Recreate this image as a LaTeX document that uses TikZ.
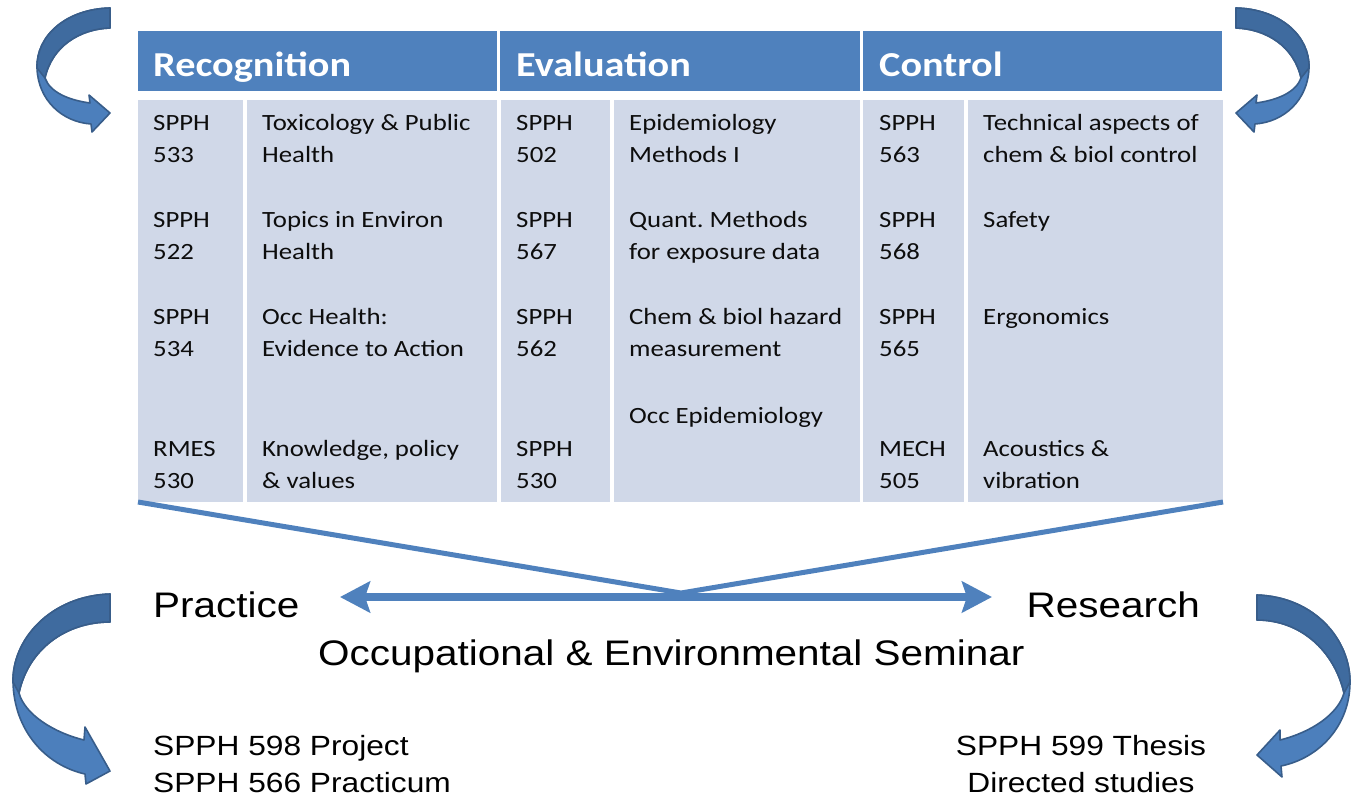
\documentclass[tikz,border=0pt]{standalone}
\usepackage{fontspec}
\usetikzlibrary{arrows.meta}
\newfontfamily\calfont[FakeStretch=1.15]{Carlito}
\newfontfamily\arifont[FakeStretch=1.14]{Liberation Sans}
\definecolor{hdrblue}{HTML}{4F81BD}
\definecolor{cellblue}{HTML}{D0D8E8}
\definecolor{arrdark}{HTML}{3F6B9F}
\definecolor{arrlight}{HTML}{4C7FBC}
\definecolor{arredge}{HTML}{385D8A}
\definecolor{txtcol}{HTML}{0D0D0D}
\frenchspacing
\begin{document}
\begin{tikzpicture}[x=1pt,y=-1pt,
  hdrcell/.style={fill=hdrblue, draw=none, inner sep=0pt, outer sep=0pt, anchor=north west, minimum height=60pt},
  bodycell/.style={fill=cellblue, draw=none, inner sep=0pt, outer sep=0pt, anchor=north west, minimum height=402pt},
  hdrtxt/.style={anchor=base west, inner sep=0pt, text=white, font=\calfont\bfseries\fontsize{35}{40}\selectfont},
  bodytxt/.style={anchor=base west, inner sep=0pt, align=left, text=txtcol, font=\calfont\fontsize{23.3}{32}\selectfont},
  bigtxt/.style={inner sep=0pt, text=black, font=\arifont\fontsize{35.5}{37}\selectfont},
  smalltxt/.style={inner sep=0pt, text=black, font=\arifont\fontsize{27.8}{37}\selectfont},
  funnel/.style={draw=hdrblue, line width=5pt},
  dblarrow/.style={draw=hdrblue, line width=8pt, {Stealth[length=30pt,width=31pt,inset=5pt]}-{Stealth[length=30pt,width=31pt,inset=5pt]}},
  arrfill/.style={fill=arrlight, draw=arredge, line width=1.6pt, line join=round},
  arrdarkfill/.style={fill=arrdark, draw=arredge, line width=1.6pt, line join=round}
]
\useasboundingbox (0,0) rectangle (1361,796);

% header cells
\node[hdrcell, minimum width=359pt] (h1) at (138,31) {};
\node[hdrcell, minimum width=360pt] (h2) at (500,31) {};
\node[hdrcell, minimum width=359pt] (h3) at (863,31) {};
% body cells
\node[bodycell, minimum width=105pt] (b1) at (138,100) {};
\node[bodycell, minimum width=250pt] (b2) at (247,100) {};
\node[bodycell, minimum width=109pt] (b3) at (501,100) {};
\node[bodycell, minimum width=246pt] (b4) at (614,100) {};
\node[bodycell, minimum width=101pt] (b5) at (863,100) {};
\node[bodycell, minimum width=255pt] (b6) at (968,100) {};

% header texts
\node[hdrtxt] (ht1) at (153,76) {Recognition};
\node[hdrtxt] (ht2) at (516,76) {Evaluation};
\node[hdrtxt] (ht3) at (879,76) {Control};

% (multi-line nodes: base anchor = baseline of the last line)
% Recognition
\node[bodytxt] (r1a) at (153,162) {SPPH\\533};
\node[bodytxt] (r1b) at (262,162) {Toxicology \& Public\\Health};
\node[bodytxt] (r2a) at (153,259) {SPPH\\522};
\node[bodytxt] (r2b) at (262,259) {Topics in Environ\\Health};
\node[bodytxt] (r3a) at (153,356) {SPPH\\534};
\node[bodytxt] (r3b) at (262,356) {Occ Health:\\Evidence to Action};
\node[bodytxt] (r4a) at (153,488) {RMES\\530};
\node[bodytxt] (r4b) at (262,488) {Knowledge, policy\\\& values};
% Evaluation
\node[bodytxt] (e1a) at (516,162) {SPPH\\502};
\node[bodytxt] (e1b) at (629,162) {Epidemiology\\Methods I};
\node[bodytxt] (e2a) at (516,259) {SPPH\\567};
\node[bodytxt] (e2b) at (629,259) {Quant. Methods\\for exposure data};
\node[bodytxt] (e3a) at (516,356) {SPPH\\562};
\node[bodytxt] (e3b) at (629,356) {Chem \& biol hazard\\measurement};
\node[bodytxt] (e4b) at (629,423) {Occ Epidemiology};
\node[bodytxt] (e4a) at (516,488) {SPPH\\530};
% Control
\node[bodytxt] (c1a) at (879,162) {SPPH\\563};
\node[bodytxt] (c1b) at (983,162) {Technical aspects of\\chem \& biol control};
\node[bodytxt] (c2a) at (879,259) {SPPH\\568};
\node[bodytxt] (c2b) at (983,227) {Safety};
\node[bodytxt] (c3a) at (879,356) {SPPH\\565};
\node[bodytxt] (c3b) at (983,324) {Ergonomics};
\node[bodytxt] (c4a) at (879,488) {MECH\\505};
\node[bodytxt] (c4b) at (983,488) {Acoustics \&\\vibration};

% funnel
\coordinate (vtx) at (681,593);
\draw[funnel] (b1.south west) -- (vtx) -- (b6.south east);

% double arrow
\coordinate (pl) at (340,597);
\coordinate (pr) at (992,597);
\draw[dblarrow] (pl) -- (pr);

% bottom texts
\node[bigtxt, anchor=base west] (prac) at (153,617) {Practice};
\node[bigtxt, anchor=base east] (res) at (1200,617) {Research};
\node[bigtxt, anchor=base west] (sem) at (318,665) {Occupational \& Environmental Seminar};
\node[smalltxt, anchor=base west] (p1) at (153,755) {SPPH 598 Project};
\node[smalltxt, anchor=base west] (p2) at (153,792) {SPPH 566 Practicum};
\node[smalltxt, anchor=base] (q1) at (1081,755) {SPPH 599 Thesis};
\node[smalltxt, anchor=base] (q2) at (1081,792) {Directed studies};

% top-left curved arrow
\path[arrfill] (110,8) .. controls (66,9) and (36,36) .. (37,68) .. controls (38,100) and (62,122) .. (91,124) -- (92,132) -- (110,113) -- (89,95) -- (90,103) .. controls (68,100) and (50,92) .. (45,78) .. controls (52,46) and (80,29) .. (110,28) -- cycle;
\path[arrdarkfill] (110,8) .. controls (66,9) and (36,36) .. (37,68) -- (45,78) .. controls (52,46) and (80,29) .. (110,28) -- cycle;
% top-right curved arrow (mirror)
\begin{scope}[xshift=1346pt, xscale=-1]
\path[arrfill] (110,8) .. controls (66,9) and (36,36) .. (37,68) .. controls (38,100) and (62,122) .. (91,124) -- (92,132) -- (110,113) -- (89,95) -- (90,103) .. controls (68,100) and (50,92) .. (45,78) .. controls (52,46) and (80,29) .. (110,28) -- cycle;
\path[arrdarkfill] (110,8) .. controls (66,9) and (36,36) .. (37,68) -- (45,78) .. controls (52,46) and (80,29) .. (110,28) -- cycle;
\end{scope}
% bottom-left curved arrow
\path[arrfill] (110,594) .. controls (50,596) and (12,640) .. (13,682) .. controls (14,730) and (45,765) .. (85,774) -- (86,784) -- (110,771) -- (85,727) -- (84,740) .. controls (55,733) and (25,715) .. (19,693) .. controls (28,650) and (65,622) .. (110,622) -- cycle;
\path[arrdarkfill] (110,594) .. controls (50,596) and (12,640) .. (13,682) -- (19,693) .. controls (28,650) and (65,622) .. (110,622) -- cycle;
% bottom-right curved arrow
\path[arrfill] (1257,595) .. controls (1315,597) and (1350,640) .. (1350,682) .. controls (1350,725) and (1320,758) .. (1281,766) -- (1282,777) -- (1257,755) -- (1280,730) -- (1280,740) .. controls (1312,732) and (1338,714) .. (1344,693) .. controls (1334,650) and (1300,620) .. (1257,620) -- cycle;
\path[arrdarkfill] (1257,595) .. controls (1315,597) and (1350,640) .. (1350,682) -- (1344,693) .. controls (1334,650) and (1300,620) .. (1257,620) -- cycle;
\end{tikzpicture}
\end{document}
